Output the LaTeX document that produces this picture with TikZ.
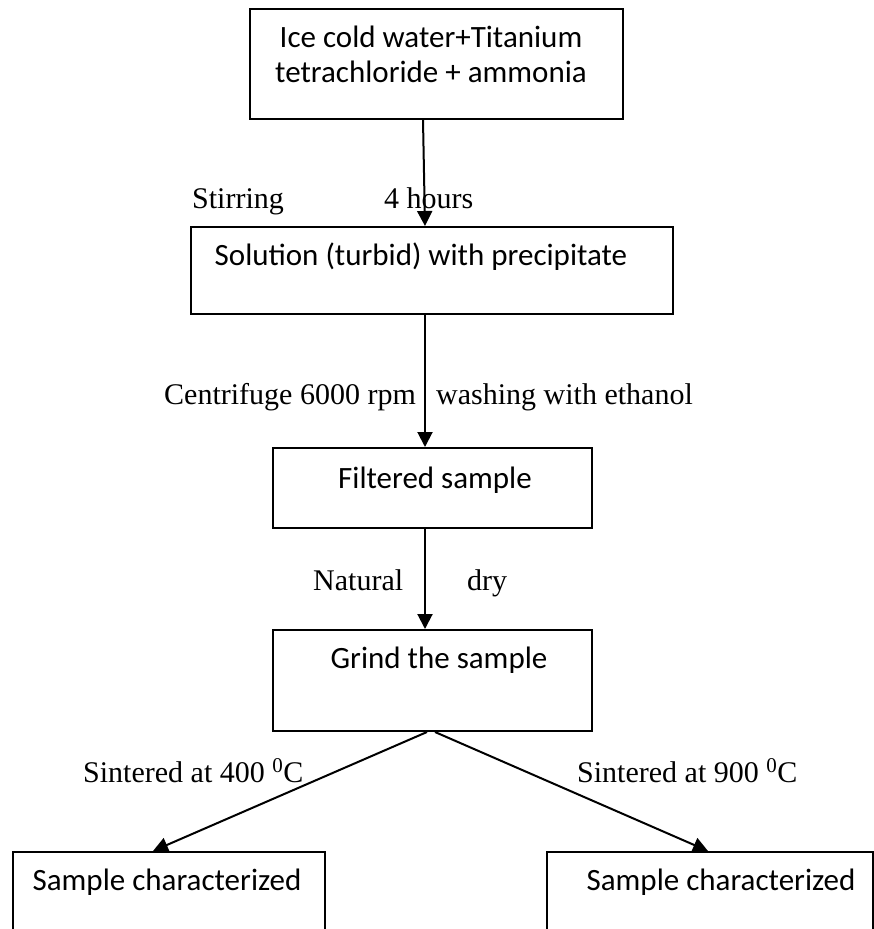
\documentclass[tikz,border=0pt]{standalone}
\usepackage{fontspec}
\setmainfont{Liberation Serif}
\newfontfamily\boxfont{Carlito}
\usetikzlibrary{arrows.meta}

\begin{document}
\begin{tikzpicture}[x=1pt,y=-1pt,
    stage/.style={draw,line width=2pt,inner sep=0pt},
    stagetext/.style={font=\boxfont\fontsize{31}{35}\selectfont,inner sep=0pt,anchor=base,align=center},
    note/.style={font=\fontsize{30}{34}\selectfont,inner sep=0pt,anchor=base west},
    flow/.style={line width=2pt,-{Triangle[length=15pt,width=15pt]}}]
        \clip (0,0) rectangle (874,929);

        % the boxes
        \node[stage,minimum width=373,minimum height=110] (mix) at (436.5,64) {};
        \node[stagetext] (mixtext) at (431,82) {Ice cold water+Titanium\\tetrachloride + ammonia};

        \node[stage,minimum width=482,minimum height=87] (sol) at (432,270.5) {};
        \node[stagetext] (soltext) at (421,265) {Solution (turbid) with precipitate};

        \node[stage,minimum width=319,minimum height=80] (filt) at (432.5,488) {};
        \node[stagetext] (filttext) at (435,488) {Filtered sample};

        \node[stage,minimum width=319,minimum height=101] (grind) at (432.5,680.5) {};
        \node[stagetext] (grindtext) at (439,668) {Grind the sample};

        \node[stage,minimum width=312,minimum height=120] (charl) at (169,912) {};
        \node[stagetext] (charltext) at (167,890) {Sample characterized};

        \node[stage,minimum width=326,minimum height=120] (charr) at (710,912) {};
        \node[stagetext] (charrtext) at (721,890) {Sample characterized};

        % the steps between them
        \draw[flow] ([xshift=-13.5]mix.south) -- ([xshift=-7]sol.north);
        \node[note] (stir) at (192,208) {Stirring};
        \node[note] (hours) at (384,208) {4 hours};

        \draw[flow] ([xshift=-7]sol.south) -- ([xshift=-7.5]filt.north);
        \node[note] (centri) at (164,404) {Centrifuge 6000 rpm};
        \node[note] (wash) at (436,404) {washing with ethanol};

        \draw[flow] ([xshift=-7.5]filt.south) -- ([xshift=-7.5]grind.north);
        \node[note] (natural) at (313,590) {Natural};
        \node[note] (dry) at (467,590) {dry};

        \draw[flow] ([xshift=-5.5]grind.south) -- ([xshift=-16]charl.north);
        \draw[flow] ([xshift=2.5]grind.south) -- ([xshift=-2]charr.north);
        \node[note] (sinterl) at (83,782) {Sintered at 400 \textsuperscript{0}C};
        \node[note] (sinterr) at (577,782) {Sintered at 900 \textsuperscript{0}C};

    \end{tikzpicture}
\end{document}
